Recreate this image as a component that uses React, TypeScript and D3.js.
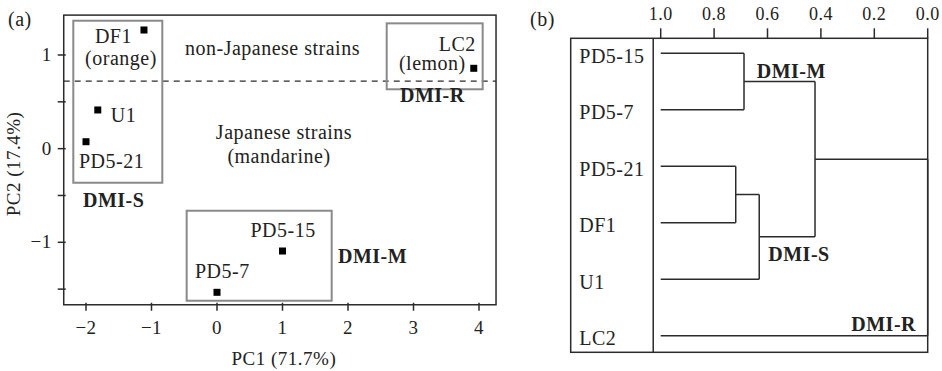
import * as d3 from "d3";

// PCA scores (panel a)
const strains = ["DF1", "U1", "PD5-21", "LC2", "PD5-15", "PD5-7"];
const pc1 = [-1.115, -1.82, -2.0, 3.92, 1.0, 0.0];
const pc2 = [1.267, 0.413, 0.074, 0.858, -1.093, -1.534];

const xTicks = [-2, -1, 0, 1, 2, 3, 4];
const yTicks = [-1.5, -1, -0.5, 0, 0.5, 1];

// group boxes in PC units: [x0, x1, y0, y1]
const groupNames = ["DMI-S", "DMI-R", "DMI-M"];
const groupBoxes = [
  [-2.194, -0.835, 1.366, -0.364],
  [2.591, 4.056, 1.338, 0.634],
  [-0.463, 1.751, -0.663, -1.624],
];
const originSplit = 0.722;

// dendrogram (panel b)
const leaves = ["PD5-15", "PD5-7", "PD5-21", "DF1", "U1", "LC2"];
const mergeIds = ["M", "S1", "S", "MS", "root"];
const mergeLeft = ["PD5-15", "PD5-21", "S1", "M", "MS"];
const mergeRight = ["PD5-7", "DF1", "U1", "S", "LC2"];
const mergeSim = [0.688, 0.719, 0.631, 0.422, 0.0];
const simTicks = [1.0, 0.8, 0.6, 0.4, 0.2, 0.0];

const font = "'Liberation Serif', 'Times New Roman', serif";
const ink = "#2b2b2b";
const boxGray = "#8a8a8a";

const x = d3.scaleLinear().domain([-2, 4]).range([86, 479]);
const y = d3.scaleLinear().domain([0, 1]).range([148.65, 55]);

const sx = d3.scaleLinear().domain([1, 0]).range([660.7, 927.7]);
const sy = d3.scalePoint<string>().domain(leaves).range([53.3, 335.7]);

// label offsets (px) from each point
const labelDx = [-12, 13, -7, 2, -32, -22];
const labelDy = [13, 12, 26, -17, -14, -14];

function ScatterPanel() {
  const x0 = x(-2.34), x1 = x(4.26);
  const y0 = y(1.426), y1 = y(-1.667);
  const txt = { fontFamily: font, fontSize: 20, fill: "#222", letterSpacing: 0.5 } as const;
  return (
    <g>
      <text x={8} y={26} {...txt}>(a)</text>
      <line x1={x0} x2={x1} y1={y(originSplit)} y2={y(originSplit)} stroke={ink} strokeWidth={1.3} strokeDasharray="6,5" />
      {groupBoxes.map((b, i) => (
        <rect key={groupNames[i]} x={x(b[0])} y={y(b[2])} width={x(b[1]) - x(b[0])} height={y(b[3]) - y(b[2])}
          fill="none" stroke={boxGray} strokeWidth={2} />
      ))}
      <rect x={x0} y={y0} width={x1 - x0} height={y1 - y0} fill="none" stroke={ink} strokeWidth={1.5} />
      {xTicks.map((t) => (
        <g key={t}>
          <line x1={x(t)} x2={x(t)} y1={y1 - 2} y2={y1 + 6} stroke={ink} strokeWidth={1.5} />
          <text x={x(t)} y={334} textAnchor="middle" {...txt} fontSize={19}>{t < 0 ? `\u2212${-t}` : t}</text>
        </g>
      ))}
      {yTicks.map((t) => (
        <g key={t}>
          <line x1={x0 - 6} x2={x0 + 2} y1={y(t)} y2={y(t)} stroke={ink} strokeWidth={1.5} />
          {Number.isInteger(t) && (
            <text x={x0 - 12} y={y(t) + 6} textAnchor="end" {...txt} fontSize={19}>{t < 0 ? `\u2212${-t}` : t}</text>
          )}
        </g>
      ))}
      <text x={(x0 + x1) / 2 + 4} y={365} textAnchor="middle" {...txt} fontSize={19}>PC1 (71.7%)</text>
      <text transform={`translate(20,${(y0 + y1) / 2 + 4}) rotate(-90)`} textAnchor="middle" {...txt} fontSize={19}>PC2 (17.4%)</text>

      {strains.map((s, i) => (
        <rect key={s} x={x(pc1[i]) - 3.5} y={y(pc2[i]) - 3.5} width={7} height={7} fill="#000" />
      ))}
      {strains.map((s, i) => {
        const anchor = s === "DF1" || s === "LC2" ? "end" : "start";
        return (
          <text key={s} x={x(pc1[i]) + labelDx[i]} y={y(pc2[i]) + labelDy[i]} textAnchor={anchor} {...txt}>{s}</text>
        );
      })}
      <text x={x(pc1[0]) - 23} y={y(pc2[0]) + 35} textAnchor="middle" {...txt}>(orange)</text>
      <text x={x(pc1[3]) - 8} y={y(pc2[3]) + 2} textAnchor="end" {...txt}>(lemon)</text>

      <text x={185} y={55} {...txt}>non-Japanese strains</text>
      <text x={284} y={139} textAnchor="middle" {...txt}>Japanese strains</text>
      <text x={279} y={163} textAnchor="middle" {...txt}>(mandarine)</text>

      <text x={83} y={206.7} {...txt} fontWeight="bold">DMI-S</text>
      <text x={400} y={101.7} {...txt} fontWeight="bold">DMI-R</text>
      <text x={338} y={263.3} {...txt} fontWeight="bold">DMI-M</text>
    </g>
  );
}

function DendroPanel() {
  const txt = { fontFamily: font, fontSize: 20, fill: "#222", letterSpacing: 0.5 } as const;
  const pos: Record<string, { x: number; y: number }> = {};
  leaves.forEach((l) => { pos[l] = { x: sx(1), y: sy(l)! }; });
  const segs: [number, number, number, number][] = [];
  mergeIds.forEach((id, i) => {
    const a = pos[mergeLeft[i]], b = pos[mergeRight[i]];
    const mx = sx(mergeSim[i]);
    segs.push([a.x, a.y, mx, a.y]);
    segs.push([b.x, b.y, mx, b.y]);
    segs.push([mx, a.y, mx, b.y]);
    pos[id] = { x: mx, y: (a.y + b.y) / 2 };
  });
  const top = 38.3, bottom = 352.3, left = 570.7, div = sx(1.028), right = sx(0);
  return (
    <g>
      <text x={530} y={26} {...txt}>(b)</text>
      {segs.map((s, i) => (
        <line key={i} x1={s[0]} y1={s[1]} x2={s[2]} y2={s[3]} stroke={ink} strokeWidth={1.5} />
      ))}
      <rect x={left} y={top} width={right - left} height={bottom - top} fill="none" stroke={ink} strokeWidth={1.5} />
      <line x1={div} x2={div} y1={top} y2={bottom} stroke={ink} strokeWidth={1.5} />
      {simTicks.map((t) => (
        <g key={t}>
          <line x1={sx(t)} x2={sx(t)} y1={top - 10} y2={top} stroke={ink} strokeWidth={1.5} />
          <text x={sx(t)} y={20} textAnchor="middle" {...txt} fontSize={18}>{t.toFixed(1)}</text>
        </g>
      ))}
      {leaves.map((l) => (
        <text key={l} x={579.3} y={sy(l)! + 9.5} {...txt}>{l}</text>
      ))}
      <text x={756.7} y={78.3} {...txt} fontWeight="bold">DMI-M</text>
      <text x={768.3} y={261} {...txt} fontWeight="bold">DMI-S</text>
      <text x={916} y={330.7} textAnchor="end" {...txt} fontWeight="bold">DMI-R</text>
    </g>
  );
}

export default function App() {
  return (
    <div style={{ position: "absolute", left: 0, top: 0, background: "#fff" }}>
      <svg width={942} height={371} style={{ display: "block" }}>
        <rect width={942} height={371} fill="#fff" />
        <ScatterPanel />
        <DendroPanel />
      </svg>
    </div>
  );
}
